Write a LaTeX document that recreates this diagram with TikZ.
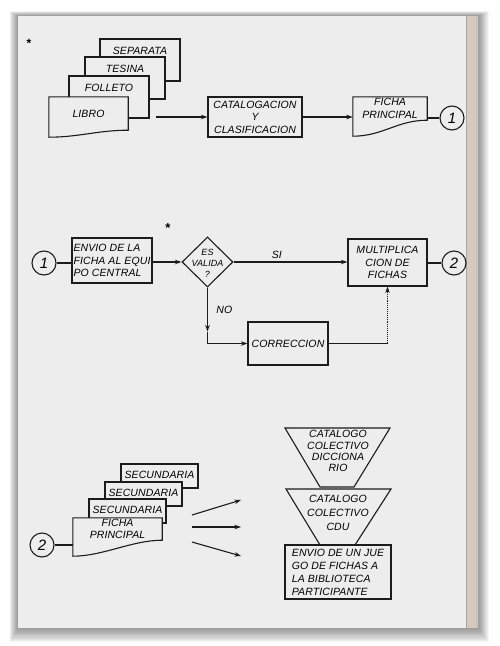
\documentclass[tikz,border=0pt]{standalone}
\usepackage{fontspec}
\setmainfont[LetterSpace=1]{Liberation Sans}
\usetikzlibrary{arrows.meta,shapes.geometric}

\definecolor{paper}{HTML}{EDEDED}
\definecolor{strip}{HTML}{D8C9BE}
\definecolor{ink}{HTML}{1C1C1C}
\newcommand{\handfont}{\fontsize{10.5}{12.5}\selectfont\itshape}
% document symbol: outline with a wavy lower edge, #2 = drop of the left corner
\newcommand{\docshape}[2]{%
  \draw[ln] (#1.north west) -- (#1.north east) -- (#1.south east)
    .. controls +(-30,0) and +(30,0) .. ([shift={(0,#2)}]#1.south west) -- cycle;}

\begin{document}
\begin{tikzpicture}[x=1pt, y=-1pt,
    ln/.style={draw=ink, line width=1.1pt},
    box/.style={ln, fill=paper, font=\handfont, inner xsep=1pt, inner ysep=2pt, align=center},
    card/.style={box, minimum width=80pt, text height=11pt, text depth=23pt, inner ysep=4pt},
    slip/.style={box, minimum width=77pt, text height=10pt, text depth=6pt, inner ysep=4pt},
    docbox/.style={fill=paper, font=\handfont, inner sep=0pt, align=center},
    ring/.style={circle, ln, fill=paper, minimum size=24pt, inner sep=0pt, font=\fontsize{15}{15}\selectfont\itshape},
    arr/.style={ln, -{Stealth[length=6.5pt, width=4.5pt]}},
    lbl/.style={font=\handfont}]
  \useasboundingbox (0,0) rectangle (500,646);

  % page and shadow
  \foreach \k in {1,...,12}
    \fill[black, opacity=0.04] (18-0.7*\k, 16-0.4*\k) rectangle (478+0.9*\k, 628+1.2*\k);
  \fill[paper] (18,16) rectangle (466,628);
  \fill[strip] (466,16) rectangle (478,628);
  \draw[black!35, line width=0.4pt] (466.5,16) -- (466.5,628);
  \draw[black!25, line width=0.6pt] (476,16) -- (476,628);
  \node[font=\bfseries\fontsize{12}{12}\selectfont] (spot) at (29,43) {*};
  \node[font=\bfseries\fontsize{13}{13}\selectfont] (star) at (168,228) {*};

  % row 1
  \node[card] (separata) at (140,60) {SEPARATA};
  \node[card] (tesina) at (125,78) {TESINA};
  \node[card] (folleto) at (109,97) {FOLLETO};
  \node[docbox, minimum width=79pt, minimum height=33pt] (libro) at (88.5,113.5) {LIBRO};
  \docshape{libro}{7}
  \node[box, minimum width=94pt, minimum height=40pt] (cat) at (255,117) {CATALOGACION\\Y\\CLASIFICACION};
  \node[docbox, minimum width=74pt, minimum height=23pt] (ficha) at (390,108.5) {FICHA\\PRINCIPAL};
  \docshape{ficha}{16}
  \node[ring] (uno) at (452,118) {1};
  \draw[arr] ([xshift=6pt]folleto.east |- cat.west) -- (cat.west);
  \draw[arr] (cat.east) -- (cat.east -| ficha.west);
  \draw[ln] (ficha.east |- uno.west) -- (uno.west);

  % row 2
  \node[ring] (unob) at (44,263) {1};
  \node[box, minimum width=80pt, minimum height=45pt, align=left] (envio) at (112,260.5) {ENVIO DE LA\\FICHA AL EQUI\\PO CENTRAL};
  \node[diamond, ln, fill=paper, minimum width=51pt, minimum height=50pt, inner sep=0pt] (valida) at (207.5,262) {};
  \node[align=center, font=\fontsize{9}{11}\selectfont\itshape] (validatxt) at (207.5,263) {ES\\VALIDA\\?};
  \node[box, minimum width=79pt, minimum height=47pt] (mult) at (387.5,262.5) {MULTIPLICA\\CION DE\\FICHAS};
  \node[ring] (dos) at (454,263) {2};
  \node[box, minimum width=80pt, minimum height=43pt] (corr) at (288,343.5) {CORRECCION};
  \coordinate (vuelta) at (mult.south |- corr.east);
  \draw[ln] (unob.east) -- (unob.east -| envio.west);
  \draw[arr] (envio.east |- valida.west) -- (valida.west);
  \draw[arr] (valida.east) -- node[lbl, above, pos=0.38] (si) {SI} (valida.east -| mult.west);
  \draw[ln] (dos.west -| mult.east) -- (dos.west);
  \draw[arr] (valida.south) -- ([yshift=12pt]valida.south |- corr.west) node[lbl, midway, right=5pt] (no) {NO};
  \draw[arr] ([yshift=12pt]valida.south |- corr.west) -- (valida.south |- corr.west) -- (corr.west);
  \draw[ln] (corr.east) -- (vuelta);
  \draw[arr, densely dotted, line width=0.7pt] (vuelta) -- (mult.south);

  % row 3
  \node[slip] (sec1) at (159.5,476) {SECUNDARIA};
  \node[slip] (sec2) at (143.5,494) {SECUNDARIA};
  \node[slip] (sec3) at (127.5,511) {SECUNDARIA};
  \node[docbox, minimum width=89pt, minimum height=22pt] (ficha2) at (117.5,529) {FICHA\\PRINCIPAL};
  \docshape{ficha2}{16}
  \node[ring] (dosb) at (42,545) {2};
  \draw[ln] (dosb.east) -- (dosb.east -| ficha2.west);
  \foreach \i/\ys/\ye in {1/515/500, 2/527/527, 3/542/556} {
    \coordinate (fs\i) at (192,\ys);
    \coordinate (fe\i) at (241,\ye);
    \draw[arr] (fs\i) -- (fe\i);
  }

  \coordinate (t1a) at (285,428); \coordinate (t1b) at (390,428);
  \coordinate (t1c) at (354,487); \coordinate (t1d) at (320,487);
  \draw[ln, fill=paper] (t1a) -- (t1b) -- (t1c) -- (t1d) -- cycle;
  \node[align=center, font=\fontsize{10.5}{11.2}\selectfont\itshape] (dicc) at (338,451) {CATALOGO\\COLECTIVO\\DICCIONA\\RIO};
  \coordinate (t2a) at (286,489); \coordinate (t2b) at (391,489);
  \coordinate (t2c) at (355,545); \coordinate (t2d) at (320,545);
  \draw[ln, fill=paper] (t2a) -- (t2b) -- (t2c) -- (t2d) -- cycle;
  \node[align=center, font=\fontsize{10.5}{14}\selectfont\itshape] (cdu) at (338,513) {CATALOGO\\COLECTIVO\\CDU};
  \node[box, minimum width=106pt, minimum height=54pt, align=left, font=\fontsize{10.5}{13}\selectfont\itshape] (juego) at (338,572) {ENVIO DE UN JUE\\GO DE FICHAS A\\LA BIBLIOTECA\\PARTICIPANTE};
\end{tikzpicture}
\end{document}
